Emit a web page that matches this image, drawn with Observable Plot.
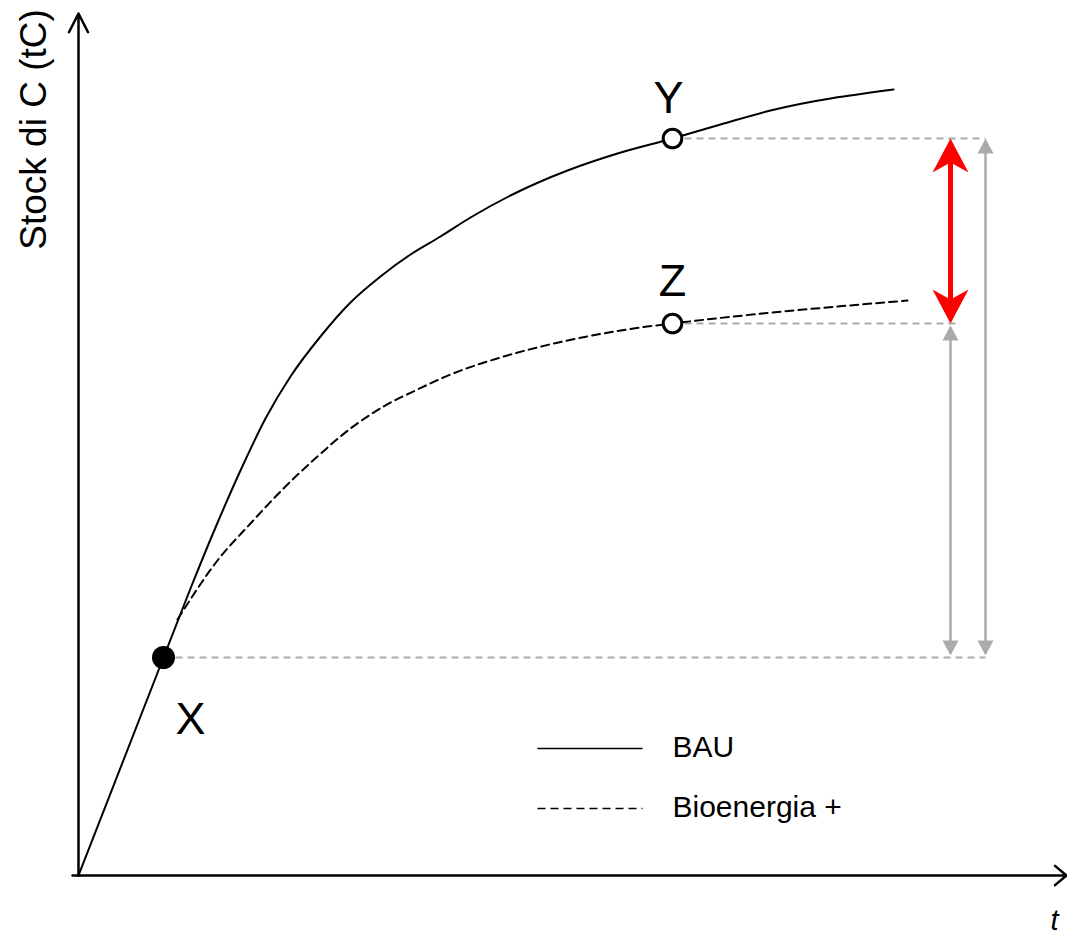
<!DOCTYPE html>
<html><head><meta charset="utf-8">
<script src="https://cdn.jsdelivr.net/npm/d3@7"></script>
<script src="https://cdn.jsdelivr.net/npm/@observablehq/plot@0.6"></script>
<style>html,body{margin:0;padding:0;background:#fff}</style>
</head><body><div id="chart"></div>
<script>
// ---- data (time units / stock units) ----
const tBAU = [0, 85, 112, 137, 162, 187, 212, 242, 272, 302, 332, 362, 392, 432, 489, 539, 594, 642, 692, 815];
const stockBAU = [0, 218, 287, 348, 405, 457, 499, 539, 573, 599, 621, 639, 658, 680, 705, 722, 737, 751, 765, 786];
const tBio = [99, 139, 172, 205, 239, 272, 305, 339, 372, 422, 489, 555, 594, 829];
const stockBio = [256, 315, 352, 387, 419, 447, 469, 486, 501, 518, 535, 547, 552, 575];
const pointNames = ["X", "Y", "Z"];
const pointT = [85, 594, 594];
const pointStock = [218, 737, 552];
const seriesNames = ["BAU", "Bioenergia +"];
const yTitle = "Stock di C (tC)";
const xTitle = "t";

// ---- layout constants ----
const xMax = 987, yMax = 860;
const arrowCols = [872, 907];     // columns of the difference arrows
const zRefEnd = 877;              // end of the Z reference line
const legendT = [459, 564];       // legend line extent
const legendTextT = 594;
const legendRows = [127, 67];
const FONT = "Liberation Sans, Arial, Helvetica, sans-serif";
const GRAY = "#aaaaaa";

const bau = tBAU.map((t, i) => ({t, s: stockBAU[i]}));
const bio = tBio.map((t, i) => ({t, s: stockBio[i]}));
const pts = pointNames.map((n, i) => ({name: n, t: pointT[i], s: pointStock[i]}));
const P = Object.fromEntries(pts.map(p => [p.name, p]));

// custom arrowhead symbols (tip at origin, pointing up)
const triHead = {draw(ctx, size) {const k = Math.sqrt(size / Math.PI);
  ctx.moveTo(0, 0); ctx.lineTo(8 * k, 15 * k); ctx.lineTo(-8 * k, 15 * k); ctx.closePath();}};
const redHead = {draw(ctx, size) {const k = Math.sqrt(size / Math.PI);
  ctx.moveTo(0, 0); ctx.lineTo(18 * k, 34 * k); ctx.lineTo(0, 24 * k); ctx.lineTo(-18 * k, 34 * k); ctx.closePath();}};

const refLines = [
  {t1: P.X.t, t2: arrowCols[1], s: P.X.s},
  {t1: P.Y.t, t2: arrowCols[1], s: P.Y.s},
  {t1: P.Z.t, t2: zRefEnd, s: P.Z.s}
];
const grayShafts = [
  {t: arrowCols[0], s1: P.X.s + 4, s2: P.Z.s - 4},
  {t: arrowCols[1], s1: P.X.s + 4, s2: P.Y.s - 4}
];
const redShaft = [{t: arrowCols[0], s1: P.Z.s + 12, s2: P.Y.s - 12}];
const grayUp = [{t: arrowCols[0], s: P.Z.s - 2}, {t: arrowCols[1], s: P.Y.s}];
const grayDown = [{t: arrowCols[0], s: P.X.s + 2}, {t: arrowCols[1], s: P.X.s + 2}];
const redUp = [{t: arrowCols[0], s: P.Y.s}];
const redDown = [{t: arrowCols[0], s: P.Z.s}];

const labelOffsets = {X: {dx: 27, dy: 76}, Y: {dx: -4, dy: -26}, Z: {dx: 0, dy: -28}};

const legend = seriesNames.map((name, i) => ({name, s: legendRows[i], dash: i === 1}));

const marks = [
  // axes
  Plot.arrow([{x1: 0, y1: 0, x2: 0, y2: yMax + 2}], {x1: "x1", y1: "y1", x2: "x2", y2: "y2",
    stroke: "black", strokeWidth: 2.5, headLength: 12.6, headAngle: 54}),
  Plot.arrow([{x1: -6, y1: 0, x2: xMax + 1, y2: 0}], {x1: "x1", y1: "y1", x2: "x2", y2: "y2",
    stroke: "black", strokeWidth: 2.5, headLength: 9, headAngle: 80}),
  // reference dashed gray lines
  Plot.link(refLines, {x1: "t1", x2: "t2", y1: "s", y2: "s", stroke: GRAY, strokeWidth: 2, strokeDasharray: "7,5"}),
  // curves
  Plot.line(bau, {x: "t", y: "s", stroke: "black", strokeWidth: 2, curve: "monotone-x"}),
  Plot.line(bio, {x: "t", y: "s", stroke: "black", strokeWidth: 2, strokeDasharray: "8,5", curve: "monotone-x"}),
  // gray arrows
  Plot.link(grayShafts, {x1: "t", x2: "t", y1: "s1", y2: "s2", stroke: GRAY, strokeWidth: 2.5}),
  Plot.dot(grayUp, {x: "t", y: "s", symbol: triHead, r: 1, fill: GRAY, stroke: "none"}),
  Plot.dot(grayDown, {x: "t", y: "s", symbol: triHead, r: 1, rotate: 180, fill: GRAY, stroke: "none"}),
  // red arrow
  Plot.link(redShaft, {x1: "t", x2: "t", y1: "s1", y2: "s2", stroke: "#ff0000", strokeWidth: 5}),
  Plot.dot(redUp, {x: "t", y: "s", symbol: redHead, r: 1, fill: "#ff0000", stroke: "none"}),
  Plot.dot(redDown, {x: "t", y: "s", symbol: redHead, r: 1, rotate: 180, fill: "#ff0000", stroke: "none"}),
  // points
  Plot.dot(pts.filter(p => p.name === "X"), {x: "t", y: "s", r: 11.5, fill: "black", stroke: "none"}),
  Plot.dot(pts.filter(p => p.name !== "X"), {x: "t", y: "s", r: 9.3, fill: "white", stroke: "black", strokeWidth: 3}),
  // point labels
  ...pointNames.map(n => Plot.text(pts.filter(p => p.name === n), {x: "t", y: "s", text: "name",
    fontSize: 45, textAnchor: "middle", lineAnchor: "bottom", fill: "black", ...labelOffsets[n]})),
  // legend
  Plot.link(legend.filter(d => !d.dash), {x1: () => legendT[0], x2: () => legendT[1], y1: "s", y2: "s",
    stroke: "black", strokeWidth: 1.7}),
  Plot.link(legend.filter(d => d.dash), {x1: () => legendT[0], x2: () => legendT[1], y1: "s", y2: "s",
    stroke: "black", strokeWidth: 1.7, strokeDasharray: "8,5"}),
  Plot.text(legend, {x: () => legendTextT, y: "s", text: "name", fontSize: 30, textAnchor: "start",
    lineAnchor: "bottom", dy: 8, fill: "black"}),
  // axis titles
  Plot.text([yTitle], {text: d => d, frameAnchor: "top-left", rotate: -90, dx: -33, dy: 114,
    fontSize: 37, textAnchor: "middle", lineAnchor: "bottom", fill: "black"}),
  Plot.text([xTitle], {text: d => d, frameAnchor: "bottom-right", dx: -11, dy: 54,
    fontSize: 29, fontStyle: "italic", textAnchor: "middle", lineAnchor: "bottom", fill: "black"})
];

const chart = Plot.plot({
  width: 1067, height: 935,
  marginLeft: 78, marginRight: 2, marginTop: 15, marginBottom: 60,
  x: {domain: [0, xMax], axis: null},
  y: {domain: [0, yMax], axis: null},
  style: {fontFamily: FONT, background: "white", overflow: "visible"},
  marks
});
document.getElementById("chart").appendChild(chart);
</script>
</body></html>
